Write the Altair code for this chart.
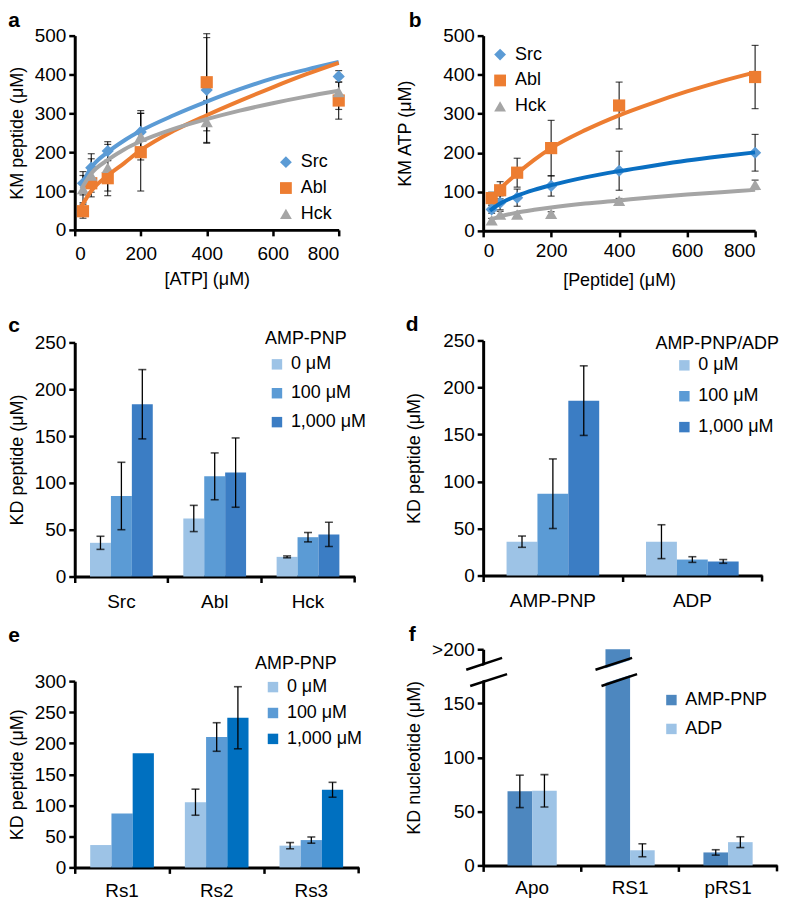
import altair as alt
import pandas as pd

FONT = "Liberation Sans"

# ---------------- data ----------------
SERIES = ["Src", "Abl", "Hck"]
PT_COLORS = ["#5b9bd5", "#ed7d31", "#a5a5a5"]
SHAPES = ["diamond", "square", "triangle-up"]

# panel a : KM peptide vs [ATP]
A_X = [25, 50, 100, 200, 400, 800]
A_SRC = [120, 160, 203, 252, 360, 395]
A_SRC_ERR = [30, 36, 24, 55, 135, 15]
A_ABL = [48, 120, 133, 200, 380, 333]
A_ABL_ERR = [18, 35, 45, 100, 125, 48]
A_HCK = [105, 140, 160, 240, 278, 355]
A_HCK_ERR = [35, 43, 60, 60, 55, 45]
A_CX = [20, 50, 100, 150, 200, 300, 400, 500, 600, 700, 800]
A_SRC_FIT = [115, 160, 200, 230, 255, 295, 330, 362, 390, 412, 432]
A_ABL_FIT = [60, 100, 140, 172, 205, 255, 295, 332, 367, 400, 430]
A_HCK_FIT = [105, 145, 180, 207, 228, 260, 285, 307, 326, 343, 358]

# panel b : KM ATP vs [Peptide]
B_X = [25, 50, 100, 200, 400, 800]
B_SRC = [55, 72, 85, 115, 154, 200]
B_SRC_ERR = [10, 18, 22, 26, 50, 47]
B_ABL = [84, 104, 149, 212, 321, 394]
B_ABL_ERR = [15, 22, 37, 71, 60, 81]
B_HCK = [27, 42, 42, 44, 77, 118]
B_HCK_ERR = [5, 8, 5, 5, 6, 12]
B_CX = [20, 50, 100, 150, 200, 300, 400, 500, 600, 700, 800]
B_SRC_FIT = [52, 70, 90, 105, 117, 137, 153, 167, 180, 191, 201]
B_ABL_FIT = [82, 108, 147, 182, 212, 258, 296, 328, 357, 383, 406]
B_HCK_FIT = [28, 37, 47, 54, 60, 70, 78, 86, 93, 99, 105]

CONC = ["0 μM", "100 μM", "1,000 μM"]

# panel c
C_CATS = ["Src", "Abl", "Hck"]
C_0 = [36, 62, 21]
C_0_ERR = [7, 14, 1]
C_100 = [86, 107, 42]
C_100_ERR = [36, 25, 5]
C_1000 = [184, 111, 45]
C_1000_ERR = [37, 37, 13]

# panel d
D_CATS = ["AMP-PNP", "ADP"]
D_0 = [36, 36]
D_0_ERR = [6, 18]
D_100 = [87, 17]
D_100_ERR = [37, 3]
D_1000 = [186, 15]
D_1000_ERR = [37, 2]

# panel e
E_CATS = ["Rs1", "Rs2", "Rs3"]
E_0 = [36, 105, 35]
E_0_ERR = [None, 21, 5]
E_100 = [87, 210, 44]
E_100_ERR = [None, 23, 5]
E_1000 = [184, 241, 125]
E_1000_ERR = [None, 50, 12]

# panel f
F_CATS = ["Apo", "RS1", "pRS1"]
F_GROUPS = ["AMP-PNP", "ADP"]
F_AMP = [68.5, 200, 12]
F_AMP_ERR = [15, None, 2.5]
F_ADP = [69, 14, 21.5]
F_ADP_ERR = [15, 6, 5]
F_BREAK_Y = [166, 177, 173.5, 184.5, 181, 192]  # lower slash, white gap, upper slash

BLUES_CD = ["#9dc3e6", "#5b9bd5", "#3b7dc4"]
BLUES_E = ["#9dc3e6", "#5b9bd5", "#0070c0"]
BLUES_F = ["#4d87bf", "#9dc3e6"]


def title(letter, dx, offset):
    return alt.TitleParams(letter, anchor="start", dx=dx, offset=offset, fontSize=21,
                           fontWeight="bold", font=FONT, baseline="alphabetic", color="black")


def indep(ch):
    return ch.resolve_scale(color="independent", shape="independent", stroke="independent",
                            x="independent", y="independent", xOffset="independent"
                            ).resolve_legend(color="independent", shape="independent")


def scatter_panel(letter, xs, vals, errs, cxs, fits, line_colors, xtitle, ytitle,
                  W, H, lx, ly, tdx, toff, ytp, xlp, xtp, xlh):
    rows = []
    for s in SERIES:
        for x, y, e in zip(xs, vals[s], errs[s]):
            rows.append(dict(series=s, x=x, y=y, lo=y - e, hi=y + e))
    pts = pd.DataFrame(rows)
    crows = []
    for s in SERIES:
        for x, y in zip(cxs, fits[s]):
            crows.append(dict(series=s, x=x, y=y))
    cur = pd.DataFrame(crows)

    xs_ = alt.Scale(domain=[0, 800], nice=False)
    ys_ = alt.Scale(domain=[0, 500], nice=False)
    xax = alt.Axis(values=[0, 200, 400, 600, 800], title=[xtitle, " "], labelPadding=xlp,
                   titlePadding=xtp, titleLineHeight=xlh)
    yax = alt.Axis(values=[0, 100, 200, 300, 400, 500], title=ytitle, labelPadding=3,
                   titlePadding=ytp)

    def X(f):
        return alt.X(f, type="quantitative", scale=xs_, axis=xax)

    def Y(f):
        return alt.Y(f, type="quantitative", scale=ys_, axis=yax)

    leg = alt.Legend(orient="none", legendX=lx, legendY=ly, title=None, labelFontSize=18,
                     labelFont=FONT, symbolSize=140, rowPadding=8, padding=0, labelOffset=6,
                     symbolStrokeWidth=0)

    base = alt.Chart(pts)
    err = base.mark_rule(color="black", strokeWidth=1).encode(x=X("x"), y=Y("lo"), y2="hi:Q")
    cap_lo = base.mark_tick(color="black", thickness=1.2, size=7, orient="horizontal").encode(
        x=X("x"), y=Y("lo"))
    cap_hi = base.mark_tick(color="black", thickness=1.2, size=7, orient="horizontal").encode(
        x=X("x"), y=Y("hi"))
    points = base.mark_point(filled=True, size=150, opacity=1).encode(
        x=X("x"), y=Y("y"),
        color=alt.Color("series:N", sort=SERIES,
                        scale=alt.Scale(domain=SERIES, range=PT_COLORS), legend=leg),
        shape=alt.Shape("series:N", sort=SERIES,
                        scale=alt.Scale(domain=SERIES, range=SHAPES), legend=leg),
    )
    lines = alt.Chart(cur).mark_line(strokeWidth=4, interpolate="monotone").encode(
        x=X("x"), y=Y("y"),
        stroke=alt.Stroke("series:N", scale=alt.Scale(domain=SERIES, range=line_colors),
                          legend=None),
        detail="series:N",
    )
    return alt.layer(err, cap_lo, cap_hi, points, lines).properties(
        width=W, height=H, title=title(letter, tdx, toff))


def bar_panel(letter, cats, groups, vals, errs, colors, ytitle, ymax, yvals, W, H, pad,
              legend, tdx, toff, ytp, xlp, label_expr=None, extra=None):
    rows = []
    for ci, c in enumerate(cats):
        for g in groups:
            v = vals[g][ci]
            e = errs[g][ci]
            rows.append(dict(cat=c, grp=g, v=v,
                             lo=(v - e) if e is not None else None,
                             hi=(v + e) if e is not None else None))
    df = pd.DataFrame(rows)
    edf = df.dropna()
    X = alt.X("cat:N", sort=cats, scale=alt.Scale(domain=cats, paddingInner=0, paddingOuter=0),
              axis=alt.Axis(title=None, bandPosition=0, labelAngle=0, labelPadding=xlp))
    XO = alt.XOffset("grp:N", sort=groups,
                     scale=alt.Scale(domain=groups, paddingInner=0, paddingOuter=pad))
    ykw = dict(values=yvals, title=ytitle, labelPadding=3, titlePadding=ytp)
    if label_expr:
        ykw["labelExpr"] = label_expr
    ysc = alt.Scale(domain=[0, ymax], nice=False)
    yax = alt.Axis(**ykw)

    def Y(f):
        return alt.Y(f, type="quantitative", scale=ysc, axis=yax)

    bars = alt.Chart(df).mark_bar().encode(
        x=X, xOffset=XO, y=Y("v"),
        color=alt.Color("grp:N", sort=groups, scale=alt.Scale(domain=groups, range=colors),
                        legend=legend),
    )
    rule = alt.Chart(edf).mark_rule(color="black", strokeWidth=1.3).encode(
        x=X, xOffset=XO, y=Y("lo"), y2="hi:Q")
    t1 = alt.Chart(edf).mark_tick(color="black", thickness=1.6, size=8,
                                  orient="horizontal").encode(x=X, xOffset=XO, y=Y("lo"))
    t2 = alt.Chart(edf).mark_tick(color="black", thickness=1.6, size=8,
                                  orient="horizontal").encode(x=X, xOffset=XO, y=Y("hi"))
    # closing tick at the right end of the category axis (axis decoration)
    end_tick = alt.Chart(df.iloc[[0]]).mark_rule(color="black", strokeWidth=2.5).encode(
        x=alt.value(W), y=alt.value(H), y2=alt.value(H + 6))
    layers = [bars, rule, t1, t2, end_tick]
    if extra:
        layers += [e.encode(y=Y("y1"), y2="y2:Q") for e in extra]
    return alt.layer(*layers).properties(width=W, height=H, title=title(letter, tdx, toff))


def bar_legend(ttl, lx, ly, rowpad, titlepad, symoff):
    kw = dict(orient="none", legendX=lx, legendY=ly, labelFontSize=18, labelFont=FONT,
              symbolType="square", symbolSize=110, rowPadding=rowpad, padding=0,
              labelOffset=5, symbolOffset=symoff, symbolStrokeWidth=0)
    if ttl:
        kw.update(title=ttl, titleFontSize=18, titleFontWeight="normal", titleFont=FONT,
                  titlePadding=titlepad, titleColor="black")
    else:
        kw.update(title=None)
    return alt.Legend(**kw)


# ---------------- panels ----------------
pa = scatter_panel(
    "a", A_X,
    {"Src": A_SRC, "Abl": A_ABL, "Hck": A_HCK},
    {"Src": A_SRC_ERR, "Abl": A_ABL_ERR, "Hck": A_HCK_ERR},
    A_CX, {"Src": A_SRC_FIT, "Abl": A_ABL_FIT, "Hck": A_HCK_FIT},
    ["#5b9bd5", "#ed7d31", "#a5a5a5"],
    "[ATP] (μM)", "KM peptide (μM)", 265, 195, 203, 118, 0, -21, 8, 9, 7, 13)

pb = scatter_panel(
    "b", B_X,
    {"Src": B_SRC, "Abl": B_ABL, "Hck": B_HCK},
    {"Src": B_SRC_ERR, "Abl": B_ABL_ERR, "Hck": B_HCK_ERR},
    B_CX, {"Src": B_SRC_FIT, "Abl": B_ABL_FIT, "Hck": B_HCK_FIT},
    ["#0a6fc2", "#ed7d31", "#a5a5a5"],
    "[Peptide] (μM)", "KM ATP (μM)", 273, 196, 8, 10, 12, -21, 28, 5, 11, 11)

pc = bar_panel(
    "c", C_CATS, CONC,
    {CONC[0]: C_0, CONC[1]: C_100, CONC[2]: C_1000},
    {CONC[0]: C_0_ERR, CONC[1]: C_100_ERR, CONC[2]: C_1000_ERR},
    BLUES_CD, "KD peptide (μM)", 250, [0, 50, 100, 150, 200, 250], 281, 235, 0.73,
    bar_legend("AMP-PNP", 191, -12, 11, 7, 3), 0, -23, 8, 10)

pd_ = bar_panel(
    "d", D_CATS, CONC,
    {CONC[0]: D_0, CONC[1]: D_100, CONC[2]: D_1000},
    {CONC[0]: D_0_ERR, CONC[1]: D_100_ERR, CONC[2]: D_1000_ERR},
    BLUES_CD, "KD peptide (μM)", 250, [0, 50, 100, 150, 200, 250], 280, 236, 0.758,
    bar_legend("AMP-PNP/ADP", 173, -5, 13, 3, 20), 0, -21, 19, 10)

pe = bar_panel(
    "e", E_CATS, CONC,
    {CONC[0]: E_0, CONC[1]: E_100, CONC[2]: E_1000},
    {CONC[0]: E_0_ERR, CONC[1]: E_100_ERR, CONC[2]: E_1000_ERR},
    BLUES_E, "KD peptide (μM)", 300, [0, 50, 100, 150, 200, 250, 300], 285, 187, 0.73,
    bar_legend("AMP-PNP", 181, -26, 8, 5, 9), 0, -8, 8, 8)

# break marks for panel f
FW, FH, FPAD = 295, 217, 0.99
f_step = FW / 3
f_bw = f_step / (2 + 2 * FPAD)
bl = f_step + FPAD * f_bw
br = bl + f_bw
brk_df = pd.DataFrame({"y1": [F_BREAK_Y[0], F_BREAK_Y[2], F_BREAK_Y[4]],
                       "y2": [F_BREAK_Y[1], F_BREAK_Y[3], F_BREAK_Y[5]]})


def seg(i, x1, x2, color, sw):
    return alt.Chart(brk_df.iloc[[i]]).mark_rule(color=color, strokeWidth=sw).encode(
        x=alt.value(x1), x2=alt.value(x2))


breaks = [
    seg(1, -15, 21.5, "white", 14), seg(0, -13, 24, "black", 2.5), seg(2, -17, 19, "black", 2.5),
    seg(1, bl - 7, br + 5, "white", 14), seg(0, bl - 4, br + 7, "black", 2.5),
    seg(2, bl - 10, br + 2, "black", 2.5),
]

pf = bar_panel(
    "f", F_CATS, F_GROUPS,
    {"AMP-PNP": F_AMP, "ADP": F_ADP},
    {"AMP-PNP": F_AMP_ERR, "ADP": F_ADP_ERR},
    BLUES_F, "KD nucleotide (μM)", 200, [0, 50, 100, 150, 200], FW, FH, FPAD,
    bar_legend(None, 180, 42, 11, 0, 0), 3, -22, 8, 7,
    label_expr="datum.value == 200 ? '>200' : datum.label", extra=breaks)

col1 = indep(alt.vconcat(pa, pc, pe, spacing=14))
col2 = indep(alt.vconcat(pb, pd_, pf, spacing=14))

chart = indep(alt.hconcat(col1, col2, spacing=30)).properties(padding=0).configure_axis(
    labelFont=FONT, titleFont=FONT, labelFontSize=19, titleFontSize=18,
    titleFontWeight="normal", labelColor="black", titleColor="black",
    domainColor="black", tickColor="black", domainWidth=3, tickWidth=2.5, tickSize=6,
    grid=False,
).configure_view(stroke=None).configure_legend(labelColor="black")

chart.save("out.html", embed_options={"renderer": "svg", "actions": False})
